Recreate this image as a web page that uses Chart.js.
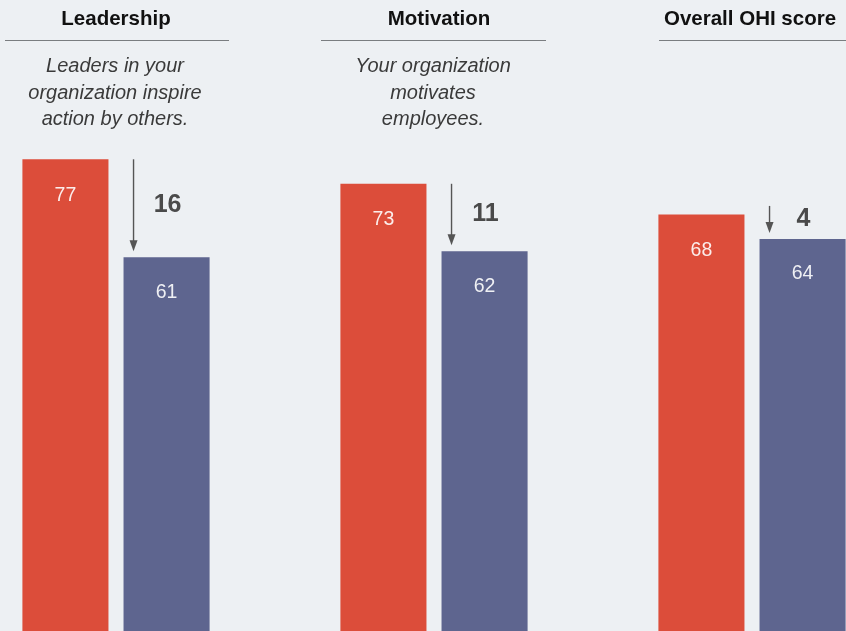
<!DOCTYPE html>
<html>
<head>
<meta charset="utf-8">
<script src="https://cdn.jsdelivr.net/npm/chart.js@4"></script>
<style>
  html, body { margin: 0; padding: 0; background: #edf0f3; overflow: hidden; width: 846px; height: 631px; }
  #wrap { position: absolute; left: -43px; top: 0; width: 954px; height: 631px; }
</style>
</head>
<body>
<div id="wrap"><canvas id="scoreChart"></canvas></div>
<script>
// Categories
let categories = ["Leadership", "Motivation", "Overall OHI score"];
let subtitles = [
  ["Leaders in your", "organization inspire", "action by others."],
  ["Your organization", "motivates", "employees."],
  []
];

// Scores
let firstScores = [77, 73, 68];
let secondScores = [61, 62, 64];

// Axis range
let yMin = 0;
let yMax = 103;

// Colours
let redColor = "#dc4d3a";
let blueColor = "#5e658f";

// Header + arrow drawing
let headerPlugin = {
  id: "headers",
  afterDatasetsDraw(chart) {
    let ctx = chart.ctx;
    let xs = chart.scales.x;
    let titleShift = [0, 5, -2];
    let ruleFrom = [-111, -113, -93];
    let ruleTo = [113, 112, 140];
    ctx.save();
    categories.forEach(function (cat, i) {
      let cx = xs.getPixelForValue(i);

      // title
      ctx.fillStyle = "#111";
      ctx.font = "bold 20.5px 'Liberation Sans', Arial, sans-serif";
      ctx.textAlign = "center";
      ctx.textBaseline = "alphabetic";
      ctx.fillText(cat, cx + titleShift[i], 25);

      // rule
      ctx.strokeStyle = "#7a7d80";
      ctx.lineWidth = 1.2;
      ctx.beginPath();
      ctx.moveTo(cx + ruleFrom[i], 40.5);
      ctx.lineTo(cx + ruleTo[i], 40.5);
      ctx.stroke();

      // subtitle
      ctx.fillStyle = "#3a3a3a";
      ctx.font = "italic 20px 'Liberation Sans', Arial, sans-serif";
      subtitles[i].forEach(function (line, k) {
        ctx.fillText(line, cx - 1, 72 + k * 26.5);
      });

      // value labels
      let red = chart.getDatasetMeta(0).data[i];
      let blue = chart.getDatasetMeta(1).data[i];
      ctx.fillStyle = "rgba(255,255,255,0.9)";
      ctx.font = "19.5px 'Liberation Sans', Arial, sans-serif";
      ctx.textBaseline = "middle";
      ctx.fillText(firstScores[i], red.x, red.y + 36);
      ctx.fillText(secondScores[i], blue.x, blue.y + 35);

      // arrow
      let ax = blue.x - blue.width / 2 + 10;
      let y1 = blue.y - 6;
      let y0 = Math.min(red.y, y1 - 27);
      ctx.strokeStyle = "#555";
      ctx.fillStyle = "#555";
      ctx.lineWidth = 1.4;
      ctx.beginPath();
      ctx.moveTo(ax, y0);
      ctx.lineTo(ax, y1 - 10);
      ctx.stroke();
      ctx.beginPath();
      ctx.moveTo(ax - 4, y1 - 11);
      ctx.lineTo(ax + 4, y1 - 11);
      ctx.lineTo(ax, y1);
      ctx.closePath();
      ctx.fill();

      // difference
      ctx.fillStyle = "#4a4a4a";
      ctx.font = "bold 25px 'Liberation Sans', Arial, sans-serif";
      ctx.fillText(firstScores[i] - secondScores[i], ax + 34, (y0 + y1) / 2);
    });
    ctx.restore();
  }
};

let ctx = document.getElementById("scoreChart").getContext("2d");
let scoreChart = new Chart(ctx, {
  type: "bar",
  data: {
    labels: categories,
    datasets: [
      { label: "Before", data: firstScores, backgroundColor: redColor },
      { label: "After", data: secondScores, backgroundColor: blueColor }
    ]
  },
  options: {
    responsive: true,
    maintainAspectRatio: false,
    animation: false,
    categoryPercentage: 0.636,
    barPercentage: 0.851,
    layout: { padding: 0 },
    plugins: { legend: { display: false }, tooltip: { enabled: false } },
    scales: {
      x: { display: false },
      y: { display: false, min: yMin, max: yMax }
    }
  },
  plugins: [headerPlugin]
});
</script>
</body>
</html>
